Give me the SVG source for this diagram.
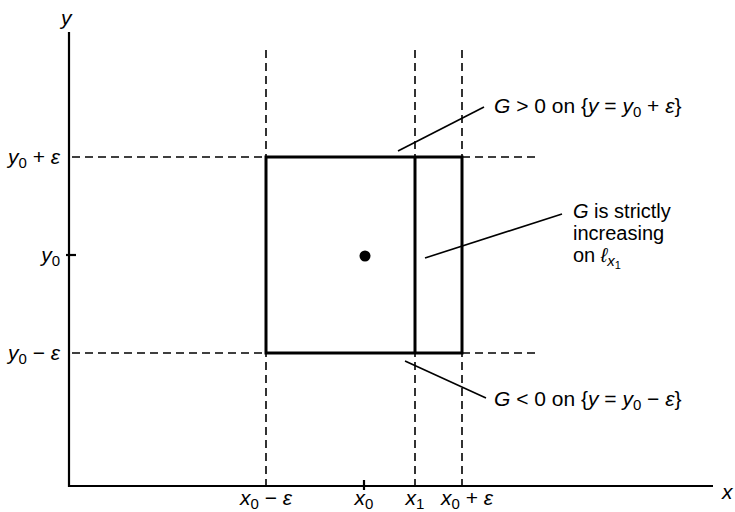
<svg xmlns="http://www.w3.org/2000/svg" width="735" height="512" viewBox="0 0 735 512">
<style>
text{font-family:"Liberation Sans",Arial,sans-serif;font-size:21px;fill:#000}
.i{font-style:italic}
.s{font-size:15px}
.m{font-size:20px}
.ax{stroke:#000;stroke-width:2.2;fill:none}
.d{stroke:#000;stroke-width:1.6;stroke-dasharray:8 5;fill:none}
.b{stroke:#000;stroke-width:3;fill:none}
.l{stroke:#000;stroke-width:1.6;fill:none}
</style>
<rect width="735" height="512" fill="#fff"/>
<g id="axes">
<line class="ax" x1="69" y1="32" x2="69" y2="487"/>
<line class="ax" x1="68" y1="486" x2="713" y2="486"/>
<line class="ax" x1="66" y1="255" x2="76" y2="255"/>
<line class="ax" x1="364" y1="480" x2="364" y2="490"/>
<text class="i" x="61" y="25">y</text>
<text class="i" x="722" y="499">x</text>
</g>
<g id="guides">
<line class="d" x1="72" y1="157" x2="537" y2="157"/>
<line class="d" x1="72" y1="353" x2="537" y2="353"/>
<line class="d" x1="266" y1="50" x2="266" y2="486"/>
<line class="d" x1="415" y1="50" x2="415" y2="486"/>
<line class="d" x1="462" y1="50" x2="462" y2="486"/>
</g>
<g id="box">
<rect class="b" x="266" y="157" width="196" height="196"/>
<line class="b" x1="415" y1="157" x2="415" y2="353"/>
<circle cx="365" cy="256" r="5.5" fill="#000"/>
</g>
<g id="ylabels">
<text x="60" y="164" text-anchor="end"><tspan class="i">y</tspan><tspan class="s" dy="4">0</tspan><tspan dy="-4"> + </tspan><tspan class="i">ε</tspan></text>
<text x="60" y="262" text-anchor="end"><tspan class="i">y</tspan><tspan class="s" dy="4">0</tspan></text>
<text x="60" y="360" text-anchor="end"><tspan class="i">y</tspan><tspan class="s" dy="4">0</tspan><tspan dy="-4"> − </tspan><tspan class="i">ε</tspan></text>
</g>
<g id="xlabels">
<text x="266" y="505" text-anchor="middle"><tspan class="i">x</tspan><tspan class="s" dy="4">0</tspan><tspan dy="-4"> − </tspan><tspan class="i">ε</tspan></text>
<text x="364" y="505" text-anchor="middle"><tspan class="i">x</tspan><tspan class="s" dy="4">0</tspan></text>
<text x="415" y="505" text-anchor="middle"><tspan class="i">x</tspan><tspan class="s" dy="4">1</tspan></text>
<text x="467" y="505" text-anchor="middle"><tspan class="i">x</tspan><tspan class="s" dy="4">0</tspan><tspan dy="-4"> + </tspan><tspan class="i">ε</tspan></text>
</g>
<g id="connectors">
<line class="l" x1="398" y1="151" x2="484" y2="107"/>
<line class="l" x1="425" y1="258" x2="562" y2="214"/>
<line class="l" x1="405" y1="361" x2="486" y2="398"/>
</g>
<g id="label-top">
<text x="494" y="113"><tspan class="i">G</tspan> &gt; 0 on {<tspan class="i">y</tspan> = <tspan class="i">y</tspan><tspan class="s" dy="4">0</tspan><tspan dy="-4"> + </tspan><tspan class="i">ε</tspan>}</text>
</g>
<g id="label-mid">
<text class="m" x="573" y="218"><tspan class="i">G</tspan> is strictly</text>
<text class="m" x="573" y="240">increasing</text>
<text class="m" x="573" y="262">on <tspan class="i">ℓ</tspan><tspan class="s i" dy="4">x</tspan><tspan style="font-size:11px" dy="3">1</tspan></text>
</g>
<g id="label-bot">
<text x="494" y="406"><tspan class="i">G</tspan> &lt; 0 on {<tspan class="i">y</tspan> = <tspan class="i">y</tspan><tspan class="s" dy="4">0</tspan><tspan dy="-4"> − </tspan><tspan class="i">ε</tspan>}</text>
</g>
</svg>
